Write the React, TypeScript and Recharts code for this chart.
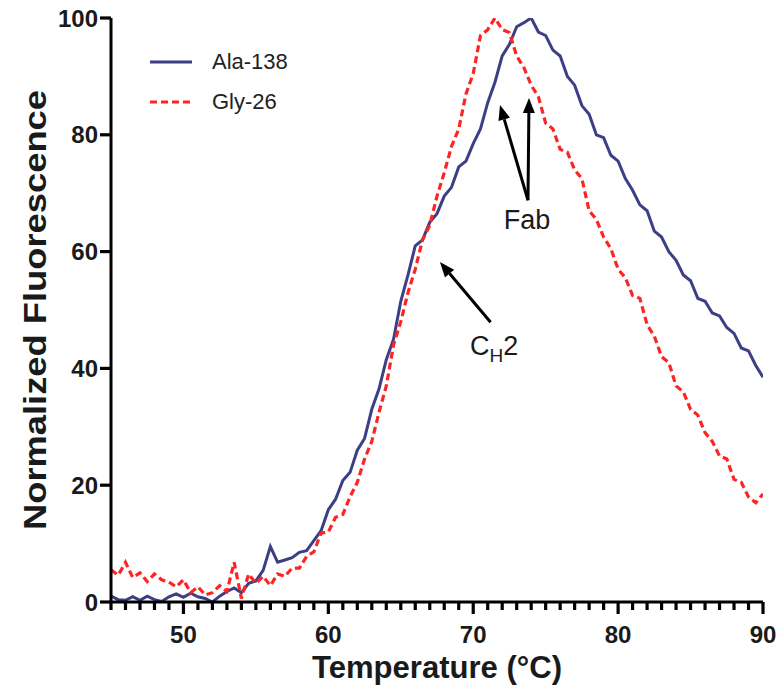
import React from 'react';
import {
  LineChart,
  Line,
  XAxis,
  YAxis,
  Legend,
  ReferenceLine,
  ReferenceDot,
} from 'recharts';

// melt curves, every 0.5 °C
const temperature = [
  45, 45.5, 46, 46.5, 47, 47.5, 48, 48.5, 49, 49.5, 50, 50.5, 51, 51.5, 52, 52.5,
  53, 53.5, 54, 54.5, 55, 55.5, 56, 56.5, 57, 57.5, 58, 58.5, 59, 59.5, 60, 60.5,
  61, 61.5, 62, 62.5, 63, 63.5, 64, 64.5, 65, 65.5, 66, 66.5, 67, 67.5, 68, 68.5,
  69, 69.5, 70, 70.5, 71, 71.5, 72, 72.5, 73, 73.5, 74, 74.5, 75, 75.5, 76, 76.5,
  77, 77.5, 78, 78.5, 79, 79.5, 80, 80.5, 81, 81.5, 82, 82.5, 83, 83.5, 84, 84.5,
  85, 85.5, 86, 86.5, 87, 87.5, 88, 88.5, 89, 89.5, 90,
];

const ala138 = [
  1.0, 0.4, 0.3, 0.9, 0.3, 1.0, 0.4, 0.1, 0.9, 1.4, 0.8, 1.5, 0.9, 0.6, 0.0, 1.0,
  1.8, 2.4, 1.6, 3.2, 3.6, 5.4, 9.5, 6.8, 7.2, 7.6, 8.5, 8.8, 10.5, 12.2, 15.8, 17.6,
  20.8, 22.2, 26.0, 28.0, 33.0, 36.5, 41.5, 45.0, 51.5, 56.0, 61.0, 62.0, 65.0, 66.5, 69.5, 71.0,
  74.5, 75.5, 78.5, 81.0, 85.5, 89.0, 93.5, 95.5, 98.5, 99.2, 100, 97.6, 97.0, 94.5, 93.5, 90.0,
  88.5, 85.0, 83.5, 80.0, 79.5, 76.5, 75.5, 72.5, 70.5, 68.0, 67.0, 63.5, 62.5, 60.0, 58.5, 56.0,
  55.0, 52.0, 51.5, 49.5, 49.0, 47.0, 46.0, 43.5, 43.0, 40.5, 38.5,
];

const gly26 = [
  5.5, 4.6, 6.8, 4.2, 5.0, 3.5, 4.8, 3.8, 3.4, 2.6, 3.8, 1.6, 2.6, 1.2, 1.6, 2.8,
  1.8, 6.8, 0.6, 4.8, 3.2, 4.4, 2.8, 4.8, 4.4, 5.8, 5.8, 7.8, 8.6, 11.8, 12.0, 14.5,
  15.0, 18.0, 20.5, 24.5, 27.5, 32.5, 37.0, 44.0, 48.0, 53.0, 57.0, 62.0, 64.5, 69.5, 73.5, 78.0,
  81.0, 87.0, 90.5, 97.0, 98.0, 100, 98.0, 97.5, 93.5, 91.5, 88.5, 86.5, 82.0, 81.0, 77.5, 77.0,
  74.0, 72.5, 67.0, 65.5, 62.5, 60.5, 57.0, 55.5, 52.5, 52.0, 47.5, 45.5, 42.0, 41.0, 37.0, 36.0,
  33.0, 32.0, 29.0, 27.5, 25.0, 24.5, 21.0, 20.5, 18.0, 17.0, 18.5,
];

const xTicks = [
  45, 46, 47, 48, 49, 50, 51, 52, 53, 54, 55, 56, 57, 58, 59, 60, 61, 62, 63, 64, 65, 66, 67,
  68, 69, 70, 71, 72, 73, 74, 75, 76, 77, 78, 79, 80, 81, 82, 83, 84, 85, 86, 87, 88, 89, 90,
];
const yTicks = [0, 20, 40, 60, 80, 100];

// arrows: [tail temp, tail value, head temp, head value]
const fabArrows = [
  [73.78, 68.8, 71.85, 85.1],
  [73.78, 68.8, 73.85, 86.3],
];
const ch2Arrow = [71.2, 47.9, 67.7, 58.2];

const FONT = '"Liberation Sans", Arial, Helvetica, sans-serif';
const BLUE = '#3d3f85';
const RED = '#ff2424';
const INK = '#000';
const TEXT = '#1a1a1a';

const data = temperature.map((t, i) => ({ t, ala: ala138[i], gly: gly26[i] }));

// every degree gets a short mark, tens get a longer one and a label
function XTick({ x, y, payload }: any) {
  const major = payload.value % 10 === 0;
  const len = major ? 12 : 8;
  return (
    <g>
      <path d={`M${x},${y} L${x},${y + len}`} stroke={INK} strokeWidth={3.2} fill="none" />
      {major && (
        <text x={x} y={y + 41} textAnchor="middle" fontSize={24} fontWeight="bold" fontFamily={FONT} fill={TEXT}>
          {payload.value}
        </text>
      )}
    </g>
  );
}

function YTick({ x, y, payload }: any) {
  return (
    <g>
      <path d={`M${x - 11},${y} L${x},${y}`} stroke={INK} strokeWidth={3.2} fill="none" />
      <text x={x - 13} y={y} dy="0.36em" textAnchor="end" fontSize={24} fontWeight="bold" fontFamily={FONT} fill={TEXT}>
        {payload.value}
      </text>
    </g>
  );
}

function Arrow({ x1, y1, x2, y2 }: any) {
  const a = Math.atan2(y2 - y1, x2 - x1);
  const len = 15;
  const w = 6;
  const bx = x2 - len * Math.cos(a);
  const by = y2 - len * Math.sin(a);
  const pts = [
    `${x2},${y2}`,
    `${bx + w * Math.sin(a)},${by - w * Math.cos(a)}`,
    `${bx - w * Math.sin(a)},${by + w * Math.cos(a)}`,
  ].join(' ');
  return (
    <g>
      <line x1={x1} y1={y1} x2={bx} y2={by} stroke={INK} strokeWidth={3} />
      <polygon points={pts} fill={INK} />
    </g>
  );
}

function LegendBox({ payload }: any) {
  return (
    <div style={{ fontFamily: FONT, fontSize: 22, color: '#222' }}>
      {(payload || []).map((entry: any) => (
        <div key={entry.value} style={{ display: 'flex', alignItems: 'center', height: 40 }}>
          <svg width={64} height={10}>
            <line
              x1={2}
              x2={44}
              y1={5}
              y2={5}
              stroke={entry.color}
              strokeWidth={3}
              strokeDasharray={entry.payload?.strokeDasharray}
            />
          </svg>
          <span>{entry.value}</span>
        </div>
      ))}
    </div>
  );
}

export default function App() {
  return (
    <div style={{ position: 'absolute', left: 0, top: 0, background: '#fff' }}>
      <LineChart width={779} height={694} data={data} margin={{ top: 18, right: 16, bottom: 42, left: 51 }}>
        <XAxis
          dataKey="t"
          type="number"
          domain={[45, 90]}
          ticks={xTicks}
          interval={0}
          tickSize={0}
          tickMargin={0}
          tickLine={false}
          tick={<XTick />}
          height={50}
          allowDataOverflow
          axisLine={{ stroke: INK, strokeWidth: 3 }}
          label={{
            content: ({ viewBox }: any) => (
              <text
                x={viewBox.x + viewBox.width / 2}
                y={viewBox.y + 76}
                textAnchor="middle"
                fontSize={31}
                fontWeight="bold"
                fontFamily={FONT}
                fill={TEXT}
                textLength={250}
                lengthAdjust="spacingAndGlyphs"
              >
                Temperature (°C)
              </text>
            ),
          }}
        />
        <YAxis
          type="number"
          domain={[0, 100]}
          ticks={yTicks}
          interval={0}
          tickSize={0}
          tickMargin={0}
          tickLine={false}
          tick={<YTick />}
          width={60}
          allowDataOverflow
          axisLine={{ stroke: INK, strokeWidth: 3 }}
          label={{
            content: ({ viewBox }: any) => {
              const cy = viewBox.y + viewBox.height / 2;
              return (
                <text
                  x={46}
                  y={cy}
                  transform={`rotate(-90 46 ${cy})`}
                  textAnchor="middle"
                  fontSize={31}
                  fontWeight="bold"
                  fontFamily={FONT}
                  fill={TEXT}
                  textLength={440}
                  lengthAdjust="spacingAndGlyphs"
                >
                  Normalized Fluorescence
                </text>
              );
            },
          }}
        />
        <Legend
          layout="vertical"
          align="center"
          verticalAlign="middle"
          content={<LegendBox />}
          wrapperStyle={{ left: 148, top: 42, width: 200 }}
        />
        <Line
          type="linear"
          dataKey="ala"
          name="Ala-138"
          stroke={BLUE}
          strokeWidth={3}
          dot={false}
          isAnimationActive={false}
        />
        <Line
          type="linear"
          dataKey="gly"
          name="Gly-26"
          stroke={RED}
          strokeWidth={3.2}
          strokeDasharray="7 4"
          dot={false}
          isAnimationActive={false}
        />
        {fabArrows.map((a, i) => (
          <ReferenceLine
            key={`fab${i}`}
            segment={[
              { x: a[0], y: a[1] },
              { x: a[2], y: a[3] },
            ]}
            shape={<Arrow />}
          />
        ))}
        <ReferenceLine
          segment={[
            { x: ch2Arrow[0], y: ch2Arrow[1] },
            { x: ch2Arrow[2], y: ch2Arrow[3] },
          ]}
          shape={<Arrow />}
        />
        <ReferenceDot
          x={73.71}
          y={63.9}
          shape={({ cx, cy }: any) => (
            <text x={cx} y={cy} textAnchor="middle" fontSize={27} fontFamily={FONT} fill={TEXT}>
              Fab
            </text>
          )}
        />
        <ReferenceDot
          x={69.78}
          y={42.3}
          shape={({ cx, cy }: any) => (
            <text x={cx} y={cy} textAnchor="start" fontSize={27} fontFamily={FONT} fill={TEXT}>
              C
              <tspan fontSize={19} dy={7}>
                H
              </tspan>
              <tspan fontSize={27} dy={-7}>
                2
              </tspan>
            </text>
          )}
        />
      </LineChart>
    </div>
  );
}
